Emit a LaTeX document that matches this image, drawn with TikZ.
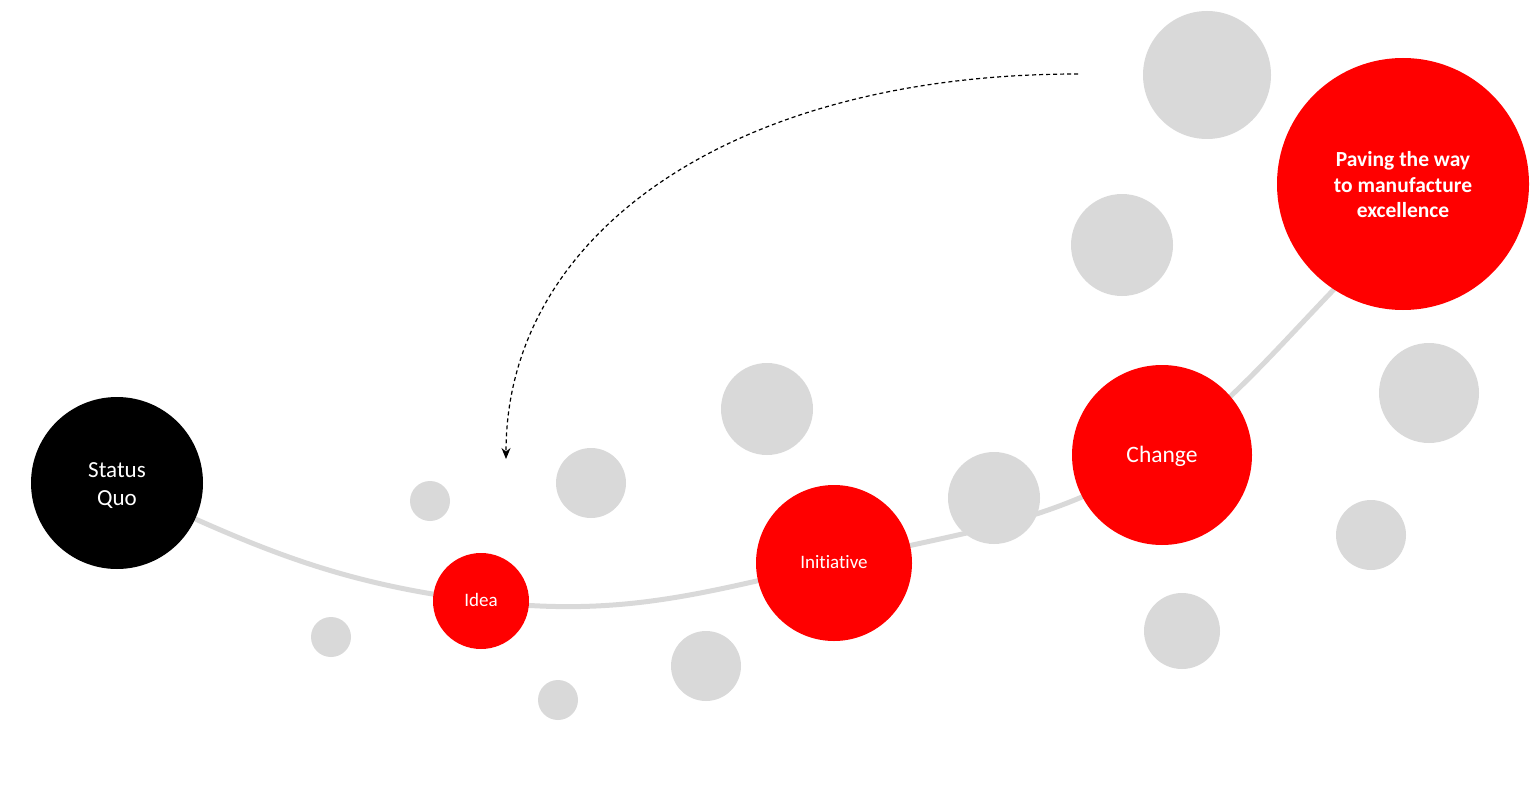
\documentclass[tikz,border=0pt]{standalone}
\usepackage{fontspec}
\setmainfont{Carlito}[Ligatures=NoCommon]
\usetikzlibrary{arrows.meta}
\definecolor{bubblegray}{RGB}{217,217,217}
\definecolor{brightred}{RGB}{255,0,0}
\tikzset{
  bubble/.style={circle, fill=bubblegray, inner sep=0pt, minimum size=#1},
  redball/.style={circle, fill=brightred, inner sep=0pt, minimum size=#1},
  blackball/.style={circle, fill=black, inner sep=0pt, minimum size=#1},
  balltext/.style={text=white, align=center, inner sep=0pt},
  pathline/.style={bubblegray, line width=5pt, line cap=round},
  backarrow/.style={black, line width=1.2pt, dash pattern=on 4pt off 3pt, -{Stealth[length=11pt,width=9pt]}}
}
\begin{document}
\begin{tikzpicture}[x=1pt,y=-1pt]
\useasboundingbox (0,0) rectangle (1536,797);
% coordinates of the path
\coordinate (sqc) at (117,483);
\coordinate (idc) at (481,601);
\coordinate (inc) at (834,563);
\coordinate (chc) at (1162,455);
\coordinate (pvc) at (1403,184);
\coordinate (pvin) at (1342,281); % just inside the Paving circle
% path line behind
\draw[pathline] (sqc) to[out=-25, in=173] (idc)
                      to[out=-7, in=-167] (inc)
                      to[out=14, in=-148] (chc)
                      to[out=38, in=-134] (pvin);
% gray bubbles
\node[bubble=128pt] (g1) at (1207,75) {};
\node[bubble=102pt] (g2) at (1122,245) {};
\node[bubble=100pt] (g3) at (1429,393) {};
\node[bubble=70pt] (g4) at (1371,535) {};
\node[bubble=76pt] (g5) at (1182,631) {};
\node[bubble=92pt] (g6) at (994,498) {};
\node[bubble=92pt] (g7) at (767,409) {};
\node[bubble=70pt] (g8) at (591,483) {};
\node[bubble=40pt] (g9) at (430,501) {};
\node[bubble=40pt] (g10) at (331,637) {};
\node[bubble=70pt] (g11) at (706,666) {};
\node[bubble=40pt] (g12) at (558,700) {};
% main nodes
\node[blackball=172pt] (sq) at (sqc) {};
\node[balltext, font=\fontsize{23}{28}\selectfont] (sqt) at ([yshift=-3pt]sq.center) {Status\\Quo};
\node[redball=96pt] (idea) at (idc) {};
\node[balltext, font=\fontsize{19}{23}\selectfont] (ideat) at ([yshift=1pt]idea.center) {Idea};
\node[redball=156pt] (init) at (inc) {};
\node[balltext, font=\fontsize{19}{23}\selectfont] (initt) at ([yshift=1pt]init.center) {Initiative};
\node[redball=180pt] (chg) at (chc) {};
\node[balltext, font=\fontsize{23.5}{28}\selectfont] (chgt) at ([yshift=-1pt]chg.center) {Change};
\node[redball=252pt] (pav) at (pvc) {};
\node[balltext, font=\bfseries\fontsize{21.5}{25.5}\selectfont] (pavt) at ([yshift=-1pt]pav.center) {Paving the way\\to manufacture\\excellence};
% dashed arrow
\coordinate (arrstart) at (1078,74);
\coordinate (arrend) at (506,459);
\draw[backarrow] (arrstart) .. controls (730,74) and (506,235) .. (arrend);
\end{tikzpicture}
\end{document}
